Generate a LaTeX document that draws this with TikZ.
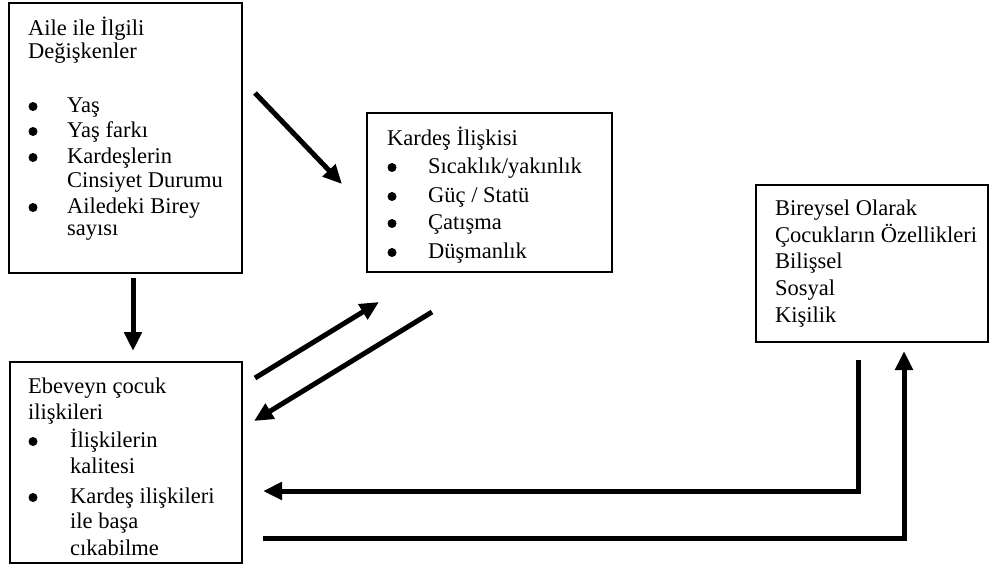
\documentclass[tikz,border=0pt]{standalone}
\usepackage{fontspec}
\setmainfont{Liberation Serif}
\usetikzlibrary{arrows.meta}
\begin{document}
\begin{tikzpicture}[x=1pt,y=-1pt,
  boxnode/.style={draw, line width=1.6pt, inner sep=0pt},
  txt/.style={anchor=base west, inner sep=0pt, font=\fontsize{22.5}{26}\selectfont},
  dot/.style={circle, fill, inner sep=0pt, minimum size=9pt},
  bigarrow/.style={line width=5pt, -{Triangle[length=19pt,width=17pt]}}]
\useasboundingbox (0,0) rectangle (991,568);
% boxes
\node[boxnode, minimum width=233pt, minimum height=270pt] (famvar) at (125.5,138) {};
\node[boxnode, minimum width=245pt, minimum height=159pt] (sib) at (489.5,192.5) {};
\node[boxnode, minimum width=232pt, minimum height=201pt] (par) at (126,462.5) {};
\node[boxnode, minimum width=232pt, minimum height=157pt] (ind) at (872,263.5) {};
% texts box A
\node[txt] (a1) at (28,35) {Aile ile İlgili};
\node[txt] (a2) at (28,58) {Değişkenler};
\node[dot] (da3) at (33,106.5) {};
\node[txt] (a3) at (67,112) {Yaş};
\node[dot] (da4) at (33,131.5) {};
\node[txt] (a4) at (67,137) {Yaş farkı};
\node[dot] (da5) at (33,157.5) {};
\node[txt] (a5) at (67,163) {Kardeşlerin};
\node[txt] (a6) at (67,187) {Cinsiyet Durumu};
\node[dot] (da7) at (33,207.5) {};
\node[txt] (a7) at (67,213) {Ailedeki Birey};
\node[txt] (a8) at (67,235) {sayısı};
% texts box K
\node[txt] (k1) at (387,145) {Kardeş İlişkisi};
\node[dot] (dk2) at (392,167.5) {};
\node[txt] (k2) at (428,173) {Sıcaklık/yakınlık};
\node[dot] (dk3) at (392,196.5) {};
\node[txt] (k3) at (428,202) {Güç / Statü};
\node[dot] (dk4) at (392,223.5) {};
\node[txt] (k4) at (428,229) {Çatışma};
\node[dot] (dk5) at (392,252.5) {};
\node[txt] (k5) at (428,258) {Düşmanlık};
% texts box E
\node[txt] (e1) at (28,393) {Ebeveyn çocuk};
\node[txt] (e2) at (28,419) {ilişkileri};
\node[dot] (de3) at (33,441.5) {};
\node[txt] (e3) at (70,447) {İlişkilerin};
\node[txt] (e4) at (70,473) {kalitesi};
\node[dot] (de5) at (33,497.5) {};
\node[txt] (e5) at (70,503) {Kardeş ilişkileri};
\node[txt] (e6) at (70,528) {ile başa};
\node[txt] (e7) at (70,555) {cıkabilme};
% texts box B
\node[txt] (b1) at (775,215) {Bireysel Olarak};
\node[txt] (b2) at (775,242) {Çocukların Özellikleri};
\node[txt] (b3) at (775,268) {Bilişsel};
\node[txt] (b4) at (775,295) {Sosyal};
\node[txt] (b5) at (775,322) {Kişilik};
% arrow end points
\coordinate (d1s) at (255,93);
\coordinate (d1e) at (342,184);
\coordinate (v1s) at (133,278);
\coordinate (v1e) at (133,351);
\coordinate (u1s) at (255,378);
\coordinate (u1e) at (379,302);
\coordinate (l1s) at (432,312);
\coordinate (l1e) at (254,421);
\coordinate (r1s) at (858,360);
\coordinate (r1c) at (858,491);
\coordinate (r1e) at (263,491);
\coordinate (f1s) at (263,538);
\coordinate (f1c) at (904,538);
\coordinate (f1e) at (904,351);
% arrows
\draw[bigarrow] (d1s) -- (d1e);
\draw[bigarrow] (v1s) -- (v1e);
\draw[bigarrow] (u1s) -- (u1e);
\draw[bigarrow] (l1s) -- (l1e);
\draw[bigarrow] (r1s) -- (r1c) -- (r1e);
\draw[bigarrow] (f1s) -- (f1c) -- (f1e);
\end{tikzpicture}
\end{document}
